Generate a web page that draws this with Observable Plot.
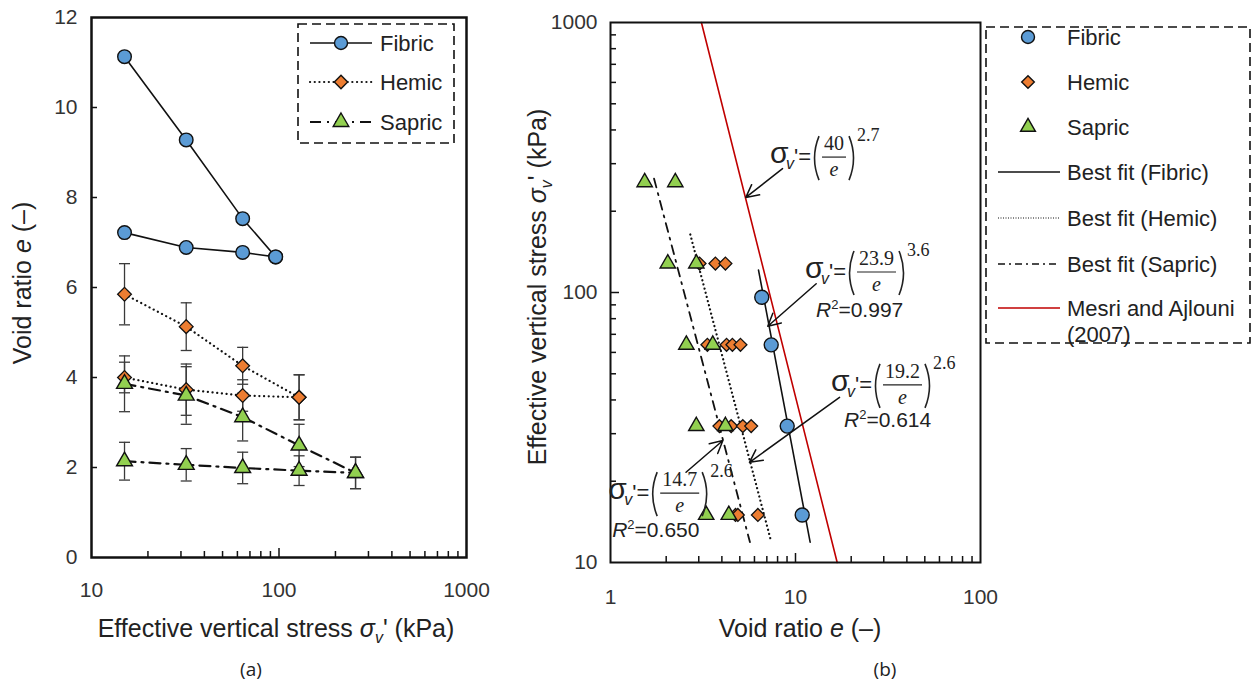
<!DOCTYPE html>
<html><head><meta charset="utf-8">
<script src="https://cdn.jsdelivr.net/npm/d3@7"></script>
<script src="https://cdn.jsdelivr.net/npm/@observablehq/plot@0.6"></script>
<style>
body{margin:0;background:#fff;}
#root{position:relative;width:1253px;height:683px;overflow:hidden;font-family:"Liberation Sans",Arial,Helvetica,sans-serif;color:#222;}
#root svg{position:absolute;top:0;}
.abs{position:absolute;white-space:nowrap;line-height:1;}
.sub{font-size:16px;position:relative;top:6px;}
</style></head><body><div id="root"></div>
<script>
// ---------- Panel (a): void ratio vs effective vertical stress ----------
const stressFibricA = [15, 32, 64, 96];
const eFibricA1 = [11.13, 9.28, 7.53, 6.68];
const eFibricA2 = [7.22, 6.89, 6.78, 6.68];
const stressHemicA = [15, 32, 64, 128];
const eHemicA1 = [5.85, 5.13, 4.26, 3.56];
const errHemicA1 = [0.68, 0.53, 0.41, 0.5];
const eHemicA2 = [4.0, 3.73, 3.6, 3.56];
const errHemicA2 = [0.34, 0.57, 0.35, 0.5];
const stressSapricA = [15, 32, 64, 128, 256];
const eSapricA1 = [3.86, 3.6, 3.12, 2.49, 1.88];
const errSapricA1 = [0.62, 0.64, 0.53, 0.47, 0.35];
const eSapricA2 = [2.14, 2.06, 1.99, 1.93, 1.88];
const errSapricA2 = [0.42, 0.36, 0.35, 0.33, 0.35];
const xTicksA = [10, 100, 1000];
const yTicksA = [0, 2, 4, 6, 8, 10, 12];

// ---------- Panel (b): effective vertical stress vs void ratio ----------
const stressFibricB = [96, 64, 32, 15];
const eFibricB = [6.57, 7.39, 9.02, 10.87];
const stressHemicB = [128, 128, 128, 64, 64, 64, 64, 32, 32, 32, 32, 15, 15, 15];
const eHemicB = [3.03, 3.69, 4.18, 3.34, 4.24, 4.56, 5.04, 3.88, 4.49, 5.19, 5.76, 4.74, 4.88, 6.26];
const stressSapricB = [256, 256, 128, 128, 64, 64, 32, 32, 15, 15];
const eSapricB = [1.53, 2.24, 2.04, 2.91, 2.57, 3.57, 2.91, 4.18, 3.29, 4.36];
// best-fit line end points
const fitFibricE = [6.31, 12.0], fitFibricS = [121, 11.9];
const fitHemicE = [2.70, 7.4], fitHemicS = [164, 11.9];
const fitSapricE = [1.72, 5.67], fitSapricS = [264, 11.9];
const mesriE = [3.1, 16.8], mesriS = [1000, 10];
const xTicksB = [1, 10, 100];
const yTicksB = [10, 100, 1000];
// annotations: formula anchor (e, stress), numerator, exponent, R2
const formulaNames = ["mesri", "fibric", "hemic", "sapric"];
const formulaE = [7.42, 11.47, 15.85, 0.99];
const formulaS = [316, 118.6, 45.3, 18.0];
const formulaNum = ["40", "23.9", "19.2", "14.7"];
const formulaExp = ["2.7", "3.6", "2.6", "2.6"];
const formulaR2 = [null, "0.997", "0.614", "0.650"];
const arrowE1 = [8.51, 12.94, 17.3, 2.56], arrowS1 = [287.5, 107.7, 40.9, 21.6];
const arrowE2 = [5.39, 7.08, 5.64, 4.05], arrowS2 = [225, 75, 23.5, 28.3];

// ---------- helpers ----------
const sans = '"Liberation Sans", Arial, Helvetica, sans-serif';
const serif = '"Liberation Serif", "DejaVu Serif", serif';
const ink = "#111";
const cFib = "#5B9BD5", cHem = "#ED7D31", cSap = "#92D050";
const capSymbol = {draw(ctx) { ctx.moveTo(-5.5, 0); ctx.lineTo(5.5, 0); }};
const minorLog = (lo, hi) => { const t = []; for (let d = lo; d < hi; d *= 10) for (let k = 2; k <= 9; k++) t.push(k * d); return t; };

const fibA = [
  ...stressFibricA.map((s, i) => ({s, e: eFibricA1[i], k: "f1"})),
  ...stressFibricA.map((s, i) => ({s, e: eFibricA2[i], k: "f2"}))];
const hemA = [
  ...stressHemicA.map((s, i) => ({s, e: eHemicA1[i], err: errHemicA1[i], k: "h1"})),
  ...stressHemicA.map((s, i) => ({s, e: eHemicA2[i], err: errHemicA2[i], k: "h2"}))];
const sapA = [
  ...stressSapricA.map((s, i) => ({s, e: eSapricA1[i], err: errSapricA1[i], k: "s1"})),
  ...stressSapricA.map((s, i) => ({s, e: eSapricA2[i], err: errSapricA2[i], k: "s2"}))];
const errA = [...hemA, ...sapA];
const capsA = errA.flatMap(d => [{s: d.s, v: d.e - d.err}, {s: d.s, v: d.e + d.err}]);

const root = document.getElementById("root");

// ---------- Plot (a) ----------
const W1 = 500, H1 = 610, mL1 = 91, mR1 = 34, mT1 = 17, mB1 = 53;
const pw1 = W1 - mL1 - mR1, ph1 = H1 - mT1 - mB1;
const plotA = Plot.plot({
  width: W1, height: H1,
  marginLeft: mL1, marginRight: mR1, marginTop: mT1, marginBottom: mB1,
  style: {fontFamily: sans, fontSize: "21px", color: "#333", background: "transparent", overflow: "visible"},
  x: {type: "log", domain: [10, 1000]},
  y: {domain: [0, 12]},
  marks: [
    Plot.axisX({ticks: xTicksA, tickSize: 0, tickPadding: 25, tickFormat: d => String(d), label: null, fontSize: 21}),
    Plot.axisY({ticks: yTicksA, tickSize: 0, tickPadding: 14, tickFormat: d => String(d), label: null, fontSize: 21}),
    Plot.tickX(minorLog(10, 1000), {x: d => d, insetTop: ph1 - 6, stroke: ink, strokeWidth: 1.5}),
    Plot.tickX([100], {x: d => d, insetTop: ph1 - 9, stroke: ink, strokeWidth: 1.5}),
    Plot.tickY(yTicksA.slice(1, -1), {y: d => d, insetRight: pw1 - 6, stroke: ink, strokeWidth: 1.5}),
    Plot.line(fibA, {x: "s", y: "e", z: "k", stroke: ink, strokeWidth: 1.6}),
    Plot.line(hemA, {x: "s", y: "e", z: "k", stroke: ink, strokeWidth: 2.2, strokeDasharray: "0.1,4.6", strokeLinecap: "round"}),
    Plot.line(sapA, {x: "s", y: "e", z: "k", stroke: ink, strokeWidth: 2.2, strokeDasharray: "11,6,2,6"}),
    Plot.ruleX(errA, {x: "s", y1: d => d.e - d.err, y2: d => d.e + d.err, stroke: "#3a3a3a", strokeWidth: 1.3}),
    Plot.dot(capsA, {x: "s", y: "v", symbol: capSymbol, r: 5, fill: "none", stroke: "#3a3a3a", strokeWidth: 1.3}),
    Plot.dot(fibA, {x: "s", y: "e", r: 6.8, symbol: "circle", fill: cFib, stroke: ink, strokeWidth: 1.4}),
    Plot.dot(hemA, {x: "s", y: "e", r: 6.2, symbol: "diamond2", fill: cHem, stroke: ink, strokeWidth: 1.3}),
    Plot.dot(sapA, {x: "s", y: "e", r: 5.9, symbol: "triangle", fill: cSap, stroke: ink, strokeWidth: 1.4}),
    Plot.frame({stroke: ink, strokeWidth: 2.5})
  ]
});
plotA.style.left = "0px";
root.appendChild(plotA);

// ---------- Plot (b) ----------
const W2 = 490, H2 = 610, mL2 = 110, mR2 = 10, mT2 = 22, mB2 = 48;
const pw2 = W2 - mL2 - mR2, ph2 = H2 - mT2 - mB2;
const hemB = stressHemicB.map((s, i) => ({s, e: eHemicB[i]}));
const sapB = stressSapricB.map((s, i) => ({s, e: eSapricB[i]}));
const fibB = stressFibricB.map((s, i) => ({s, e: eFibricB[i]}));
const seg = (E, S) => E.map((e, i) => ({e, s: S[i]}));
const arrows = arrowE1.map((e, i) => ({e1: e, s1: arrowS1[i], e2: arrowE2[i], s2: arrowS2[i]}));
const plotB = Plot.plot({
  width: W2, height: H2,
  marginLeft: mL2, marginRight: mR2, marginTop: mT2, marginBottom: mB2,
  style: {fontFamily: sans, fontSize: "21px", color: "#333", background: "transparent", overflow: "visible"},
  x: {type: "log", domain: [1, 100]},
  y: {type: "log", domain: [10, 1000]},
  marks: [
    Plot.axisX({ticks: xTicksB, tickSize: 0, tickPadding: 27, tickFormat: d => String(d), label: null, fontSize: 21}),
    Plot.axisY({ticks: yTicksB, tickSize: 0, tickPadding: 13, tickFormat: d => String(d), label: null, fontSize: 21}),
    Plot.tickX(minorLog(1, 100), {x: d => d, insetTop: ph2 - 6, stroke: ink, strokeWidth: 1.5}),
    Plot.tickX([10], {x: d => d, insetTop: ph2 - 9, stroke: ink, strokeWidth: 1.5}),
    Plot.tickY(minorLog(10, 1000), {y: d => d, insetRight: pw2 - 6, stroke: ink, strokeWidth: 1.5}),
    Plot.tickY([100], {y: d => d, insetRight: pw2 - 9, stroke: ink, strokeWidth: 1.5}),
    Plot.line(seg(mesriE, mesriS), {x: "e", y: "s", stroke: "#C00000", strokeWidth: 1.6}),
    Plot.line(seg(fitFibricE, fitFibricS), {x: "e", y: "s", stroke: ink, strokeWidth: 1.6}),
    Plot.line(seg(fitHemicE, fitHemicS), {x: "e", y: "s", stroke: ink, strokeWidth: 2.2, strokeDasharray: "0.1,4.2", strokeLinecap: "round"}),
    Plot.line(seg(fitSapricE, fitSapricS), {x: "e", y: "s", stroke: ink, strokeWidth: 1.8, strokeDasharray: "9,6,2,6"}),
    Plot.arrow(arrows, {x1: "e1", y1: "s1", x2: "e2", y2: "s2", stroke: ink, strokeWidth: 1.5, headLength: 14, headAngle: 55}),
    Plot.dot(hemB, {x: "e", y: "s", r: 5.8, symbol: "diamond2", fill: cHem, stroke: ink, strokeWidth: 1.3}),
    Plot.dot(sapB, {x: "e", y: "s", r: 5.7, symbol: "triangle", fill: cSap, stroke: ink, strokeWidth: 1.4}),
    Plot.dot(fibB, {x: "e", y: "s", r: 7, symbol: "circle", fill: cFib, stroke: ink, strokeWidth: 1.4}),
    Plot.frame({stroke: ink, strokeWidth: 2})
  ]
});
plotB.style.left = "500px";
root.appendChild(plotB);

// formula annotations placed through panel (b)'s scales
const sx = plotB.scale("x"), sy = plotB.scale("y");
const svgB = d3.select(plotB);
const r2dx = [0, 10, 12, 3], r2dy = [0, 45, 42, 44];
formulaNames.forEach((name, i) => {
  const x0 = sx.apply(formulaE[i]), y0 = sy.apply(formulaS[i]);
  const g = svgB.append("g").attr("transform", `translate(${x0},${y0})`)
    .attr("fill", "#222").attr("text-anchor", "start").attr("class", "formula-" + name);
  const t = (x, y, txt, font, size, extra = {}) => {
    const el = g.append("text").attr("x", x).attr("y", y).attr("font-family", font).attr("font-size", size).text(txt);
    for (const k in extra) el.attr(k, extra[k]);
    return el;
  };
  t(-1, 6, "σ", sans, 30);
  t(15, 12, "v", sans, 16, {"font-style": "italic"});
  t(23, 7, "'=", sans, 22);
  const num = formulaNum[i];
  const w = num.length * 10 - (num.includes(".") ? 5 : 0) + 4;
  const bx = 51;
  g.append("path").attr("d", `M${bx - 3},-21 Q${bx - 12},1 ${bx - 3},23`).attr("fill", "none").attr("stroke", "#222").attr("stroke-width", 1.6);
  t(bx + w / 2, -7, num, serif, 20, {"text-anchor": "middle"});
  g.append("line").attr("x1", bx).attr("x2", bx + w).attr("y1", 0).attr("y2", 0).attr("stroke", "#222").attr("stroke-width", 1.2);
  t(bx + w / 2, 19, "e", serif, 20, {"text-anchor": "middle", "font-style": "italic"});
  g.append("path").attr("d", `M${bx + w + 3},-21 Q${bx + w + 12},1 ${bx + w + 3},23`).attr("fill", "none").attr("stroke", "#222").attr("stroke-width", 1.6);
  t(bx + w + 11, -16, formulaExp[i], serif, 18);
  if (formulaR2[i]) {
    const r = g.append("text").attr("x", r2dx[i]).attr("y", r2dy[i]).attr("font-family", sans).attr("font-size", 21);
    r.append("tspan").attr("font-style", "italic").text("R");
    r.append("tspan").attr("font-size", 13).attr("dy", -8).text("2");
    r.append("tspan").attr("dy", 8).text("=" + formulaR2[i]);
  }
});

// ---------- overlay: legends ----------
const ov = d3.select(root).append("svg").attr("width", 1253).attr("height", 683).style("left", "0px").style("pointer-events", "none");
const sym = (type, r) => d3.symbol().type(type).size(Math.PI * r * r)();
function marker(x, y, kind, scale = 1) {
  const spec = {circle: [d3.symbolCircle, 6.5, cFib], diamond: [d3.symbolDiamond2, 6.0, cHem], triangle: [d3.symbolTriangle, 5.8, cSap]}[kind];
  ov.append("path").attr("d", sym(spec[0], spec[1] * scale)).attr("transform", `translate(${x},${y})`).attr("fill", spec[2]).attr("stroke", ink).attr("stroke-width", 1.4);
}
function ltext(x, y, s) {
  ov.append("text").attr("x", x).attr("y", y + 8).attr("font-family", sans).attr("font-size", 22).attr("fill", "#222").text(s);
}
// legend (a)
ov.append("rect").attr("x", 298).attr("y", 24).attr("width", 156).attr("height", 119).attr("fill", "white").attr("stroke", ink).attr("stroke-width", 1.6).attr("stroke-dasharray", "9,5");
const legA = [["Fibric", "circle", null], ["Hemic", "diamond", "0.1,4.6"], ["Sapric", "triangle", "11,6,2,6"]];
const legAy = [43, 82, 122];
legA.forEach(([name, kind, dash], i) => {
  const l = ov.append("line").attr("x1", 310).attr("x2", 372).attr("y1", legAy[i]).attr("y2", legAy[i]).attr("stroke", ink).attr("stroke-width", dash ? 2.2 : 1.6);
  if (dash) l.attr("stroke-dasharray", dash).attr("stroke-linecap", kind === "diamond" ? "round" : "butt");
  marker(341, legAy[i], kind);
  ltext(380, legAy[i], name);
});
// legend (b)
ov.append("rect").attr("x", 986).attr("y", 27).attr("width", 264).attr("height", 316).attr("fill", "white").attr("stroke", ink).attr("stroke-width", 1.6).attr("stroke-dasharray", "9,5");
const legBnames = ["Fibric", "Hemic", "Sapric", "Best fit (Fibric)", "Best fit (Hemic)", "Best fit (Sapric)", "Mesri and Ajlouni"];
const legBy = [37, 82, 127, 172, 218, 264, 308];
legBnames.forEach((name, i) => {
  const y = legBy[i];
  if (i === 0) marker(1028, y, "circle");
  if (i === 1) marker(1028, y, "diamond", 0.95);
  if (i === 2) marker(1028, y, "triangle", 0.95);
  if (i >= 3) {
    const l = ov.append("line").attr("x1", 998).attr("x2", 1060).attr("y1", y).attr("y2", y)
      .attr("stroke", i === 6 ? "#C00000" : ink).attr("stroke-width", i === 4 ? 1.2 : 1.6);
    if (i === 4) l.attr("stroke-dasharray", "1,1.5");
    if (i === 5) l.attr("stroke-dasharray", "7,4,2,4");
  }
  ltext(1067, y, name);
});
ltext(1067, 334, "(2007)");

// ---------- titles ----------
const html = (left, top, content, style = "") => {
  const d = document.createElement("div");
  d.className = "abs";
  d.style.cssText = `left:${left}px;top:${top}px;transform:translate(-50%,-50%) ${style}`;
  d.innerHTML = content;
  root.appendChild(d);
  return d;
};
html(276, 628, "Effective vertical stress <i>σ<span class='sub'>v</span></i>' (kPa)", "");
html(800, 628, "Void ratio <i>e</i> (–)", "");
html(22, 283, "Void ratio <i>e</i> (–)", "rotate(-90deg)");
html(537, 287, "Effective vertical stress <i>σ<span class='sub'>v</span></i>' (kPa)", "rotate(-90deg)");
document.querySelectorAll(".abs").forEach(d => d.style.fontSize = "25px");
const la = html(251, 669, "(a)"); la.style.fontFamily = '"Open Sans", sans-serif'; la.style.fontSize = "19px";
const lb = html(885, 669, "(b)"); lb.style.fontFamily = '"Open Sans", sans-serif'; lb.style.fontSize = "19px";
</script></body></html>
